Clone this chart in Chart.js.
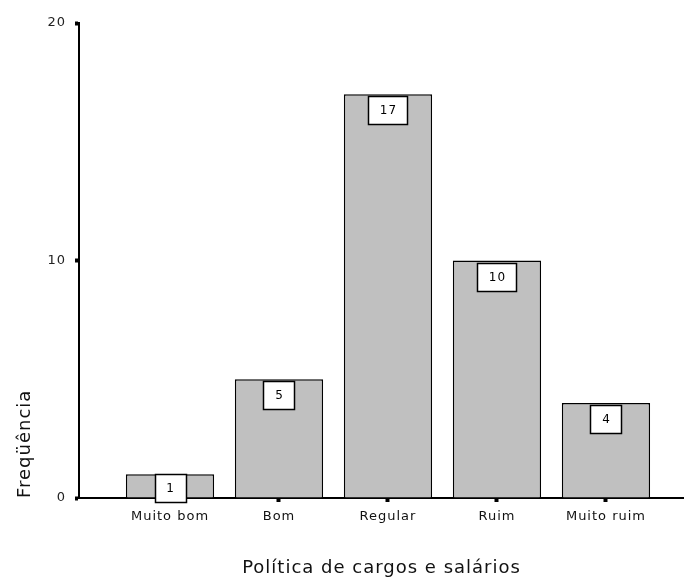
<!DOCTYPE html>
<html lang="pt">
<head>
<meta charset="UTF-8">
<title>Política de cargos e salários</title>
<script src="https://cdn.jsdelivr.net/npm/chart.js"></script>
<style>
    html, body { margin: 0; padding: 0; background: #fff; }
    #wrap { width: 684px; height: 585px; position: relative; }
</style>
</head>
<body>
<div id="wrap"><canvas id="grafico"></canvas></div>
<script>
const categorias = ['Muito bom', 'Bom', 'Regular', 'Ruim', 'Muito ruim'];
const frequencias = [1, 5, 17, 10, 4];
const ticksY = [0, 10, 20];

const fonte = "'DejaVu Sans', sans-serif";

// espaçamento entre letras em todos os textos do canvas
const espacamento = {
    id: 'espacamento',
    beforeDraw(chart) {
        chart.ctx.letterSpacing = '1px';
    }
};

// caixinhas brancas com o valor de cada barra
const rotulos = {
    id: 'rotulos',
    afterDatasetsDraw(chart) {
        const ctx = chart.ctx;
        const base = chart.scales.y.getPixelForValue(0);
        const barras = chart.getDatasetMeta(0).data;
        ctx.save();
        ctx.font = '12px ' + fonte;
        ctx.textAlign = 'center';
        ctx.textBaseline = 'middle';
        barras.forEach((bar, i) => {
            const txt = String(frequencias[i]);
            const w = Math.round(ctx.measureText(txt).width + 22);
            const h = 28;
            let topo = bar.y + 2;
            if (topo + h > base + 4) topo = base + 4 - h;
            const x0 = Math.round(bar.x - w / 2) + 0.5;
            const y0 = Math.round(topo) + 0.5;
            ctx.fillStyle = '#fff';
            ctx.fillRect(x0, y0, w, h);
            ctx.strokeStyle = '#000';
            ctx.lineWidth = 1.5;
            ctx.strokeRect(x0, y0, w, h);
            ctx.fillStyle = '#000';
            ctx.fillText(txt, bar.x + 0.5, topo + h / 2 + 1);
        });
        ctx.restore();
    }
};

new Chart(document.getElementById('grafico'), {
    type: 'bar',
    data: {
        datasets: [{
            data: frequencias.map((v, i) => ({ x: i + 1, y: v })),
            backgroundColor: '#c0c0c0',
            borderColor: '#000',
            borderWidth: 1.5,
            barPercentage: 0.81,
            categoryPercentage: 1
        }]
    },
    options: {
        responsive: true,
        maintainAspectRatio: false,
        animation: false,
        layout: { padding: { top: 23, right: 0, left: 0, bottom: 0 } },
        plugins: {
            legend: { display: false },
            tooltip: { enabled: false }
        },
        scales: {
            x: {
                type: 'linear',
                offset: false,
                min: 0.165,
                max: 5.716,
                afterBuildTicks: s => { s.ticks = categorias.map((c, i) => ({ value: i + 1 })); },
                afterFit: s => { s.height = 87; },
                border: { display: true, color: '#000', width: 2 },
                grid: { offset: false, drawOnChartArea: false, tickLength: 4, tickWidth: 4, tickColor: '#000' },
                ticks: {
                    autoSkip: false,
                    maxRotation: 0,
                    padding: 7,
                    color: '#111',
                    font: { family: fonte, size: 13 },
                    callback: v => categorias[v - 1]
                },
                title: {
                    display: true,
                    text: 'Política de cargos e salários',
                    color: '#111',
                    font: { family: fonte, size: 18 },
                    padding: { top: 0, bottom: 6 }
                }
            },
            y: {
                min: 0,
                max: 20,
                afterBuildTicks: s => { s.ticks = ticksY.map(v => ({ value: v })); },
                afterFit: s => { s.width = 79; },
                border: { display: true, color: '#000', width: 2 },
                grid: { drawOnChartArea: false, tickLength: 4, tickWidth: 4, tickColor: '#000' },
                ticks: {
                    padding: 9,
                    color: '#222',
                    font: { family: fonte, size: 13 }
                },
                title: {
                    display: true,
                    text: 'Freqüência',
                    align: 'start',
                    color: '#111',
                    font: { family: fonte, size: 18 },
                    padding: { top: 15, bottom: 0 }
                }
            }
        }
    },
    plugins: [espacamento, rotulos]
});
</script>
</body>
</html>
